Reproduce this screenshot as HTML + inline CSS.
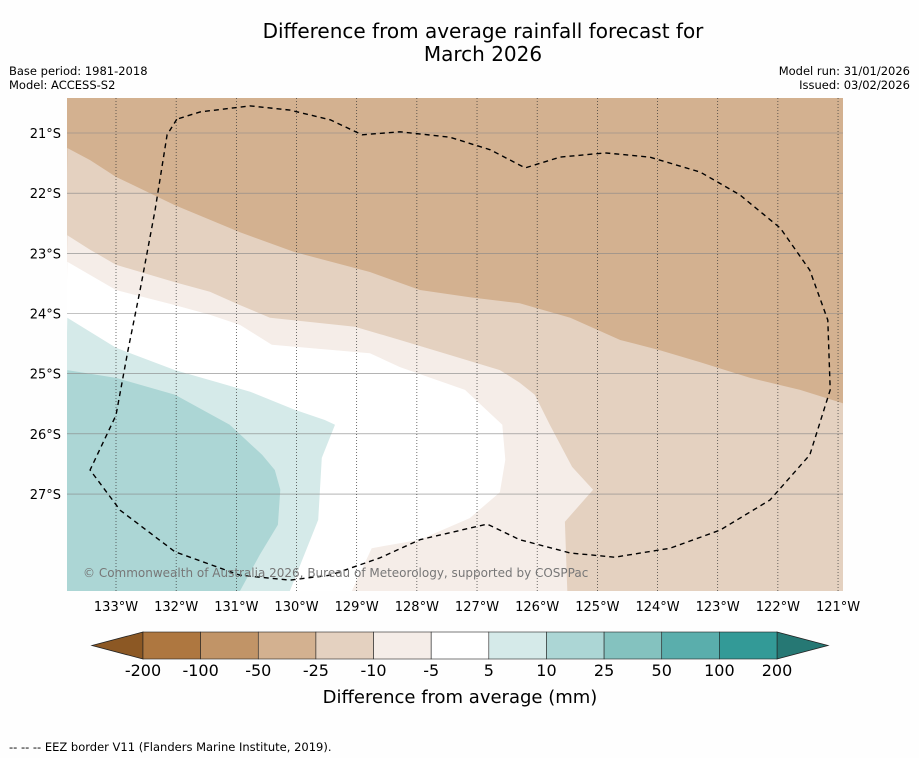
<!DOCTYPE html>
<html><head><meta charset="utf-8"><style>
body{margin:0;background:#fefefe;width:919px;height:758px;overflow:hidden;font-family:"DejaVu Sans","Liberation Sans",sans-serif;}
svg{display:block}
</style></head><body>
<svg id="chart" width="919" height="758" font-family="DejaVu Sans, Liberation Sans, sans-serif">
<text x="483" y="38" font-size="20" text-anchor="middle">Difference from average rainfall forecast for</text>
<text x="483" y="61" font-size="20" text-anchor="middle">March 2026</text>
<text x="9" y="75" font-size="11.5">Base period: 1981-2018</text>
<text x="9" y="89" font-size="11.5">Model: ACCESS-S2</text>
<text x="910" y="75" font-size="11.5" text-anchor="end">Model run: 31/01/2026</text>
<text x="910" y="89" font-size="11.5" text-anchor="end">Issued: 03/02/2026</text>
<text x="9" y="751" font-size="11.5">--  --  -- EEZ border V11 (Flanders Marine Institute, 2019).</text>
<g id="plot"></g>
<g id="cbar"></g>
</svg>
<script>
// Values in degrees West / degrees South
const lonTicks=[133,132,131,130,129,128,127,126,125,124,123,122,121];
const latTicks=[21,22,23,24,25,26,27];
const levels=[-200,-100,-50,-25,-10,-5,5,10,25,50,100,200];
const levelColors=["#ae7740","#c19467","#d3b190","#e4d1c0","#f5ede8","#ffffff","#d5eae9","#acd6d5","#84c2bf","#5aaeac","#339a97"];
const extColors=["#8c5824","#267874"];
const contourTan=[[133.81,21.25],[133.43,21.45],[133.0,21.73],[132.02,22.20],[130.94,22.65],[130.03,22.98],[128.78,23.31],[127.95,23.61],[127.12,23.73],[126.29,23.83],[125.45,24.07],[124.62,24.44],[123.96,24.61],[123.29,24.81],[122.46,25.07],[121.63,25.27],[120.92,25.49]];
const contourBeige=[[133.81,22.70],[133.43,22.94],[133.0,23.19],[132.02,23.48],[131.44,23.64],[130.94,23.86],[130.44,24.07],[129.03,24.22],[128.28,24.44],[127.45,24.69],[126.62,24.94],[126.29,25.15],[126.04,25.35],[125.79,25.85],[125.42,26.55],[125.07,26.93],[125.54,27.46],[125.50,28.61]];
const contourLight=[[133.81,23.14],[133.0,23.61],[132.02,23.86],[131.44,24.02],[130.94,24.19],[130.41,24.52],[128.78,24.66],[128.28,24.89],[127.20,25.27],[126.58,25.85],[126.53,26.43],[126.62,26.97],[127.12,27.40],[127.95,27.76],[128.75,27.90],[129.08,28.61]];
const contourWhite=[[133.81,24.07],[133.0,24.57],[132.02,24.94],[130.77,25.30],[130.03,25.60],[129.53,25.77],[129.36,25.85],[129.58,26.40],[129.64,27.43],[130.11,28.61]];
const contourTeal=[[133.81,24.94],[133.0,25.07],[132.02,25.35],[131.11,25.85],[130.57,26.35],[130.36,26.60],[130.27,26.93],[130.31,27.51],[130.61,28.01],[130.94,28.61]];
const eez=[[131.99,20.77],[132.15,21.03],[132.35,22.28],[132.60,23.61],[132.80,24.61],[133.0,25.69],[133.43,26.60],[132.93,27.27],[132.02,27.96],[130.94,28.35],[130.11,28.43],[129.44,28.35],[128.61,28.06],[127.95,27.76],[126.83,27.50],[126.29,27.76],[125.45,27.98],[124.71,28.05],[123.79,27.90],[122.96,27.60],[122.13,27.10],[121.47,26.35],[121.13,25.27],[121.17,24.11],[121.47,23.28],[121.96,22.58],[122.63,22.03],[123.29,21.65],[124.13,21.40],[124.87,21.33],[125.62,21.40],[126.20,21.58],[126.78,21.28],[127.45,21.07],[128.28,20.98],[128.91,21.03],[129.44,20.78],[130.11,20.62],[130.77,20.55],[131.60,20.65],[131.99,20.77]];

const NS='http://www.w3.org/2000/svg';
const X0=67,X1=843,Y0=98,Y1=591,PPD=60.17;
const sx=w=>116+(133-w)*PPD;
const sy=s=>133+(s-21)*PPD;
function mk(tag,attrs,parent){const e=document.createElementNS(NS,tag);for(const k in attrs)e.setAttribute(k,attrs[k]);parent.appendChild(e);return e;}
const plot=document.getElementById('plot');
const defs=mk('defs',{},plot);
const cp=mk('clipPath',{id:'clip'},defs);
mk('rect',{x:X0,y:Y0,width:X1-X0,height:Y1-Y0},cp);
const g=mk('g',{'clip-path':'url(#clip)'},plot);
const bg=mk('rect',{x:X0,y:Y0,width:X1-X0,height:Y1-Y0,fill:levelColors[2]},g);


function band(pts,color,name,rightClose){
  let d=pts.map((p,i)=>(i?'L':'M')+sx(p[0]).toFixed(1)+','+sy(p[1]).toFixed(1)).join('');
  d+='L'+(rightClose?X1+5:sx(pts[pts.length-1][0]))+','+(Y1+5)+'L'+(X0-5)+','+(Y1+5)+'Z';
  const e=mk('path',{d:d,fill:color},g);
  
  
}
band(contourTan,levelColors[3],'band-minus25-minus10',true);
band(contourBeige,levelColors[4],'band-minus10-minus5',false);
band(contourLight,levelColors[5],'band-minus5-5',false);
band(contourWhite,levelColors[6],'band-5-10',false);
band(contourTeal,levelColors[7],'band-10-25',false);
latTicks.forEach(s=>{
  const l=mk('line',{x1:X0,x2:X1,y1:sy(s),y2:sy(s),stroke:'#888',"stroke-width":0.6},g);
  
  
  const t=mk('text',{x:X0-6,y:sy(s)+5,'font-size':13,'text-anchor':'end'},plot);
  t.textContent=s+'°S';
  
  
});
lonTicks.forEach(w=>{
  const l=mk('line',{x1:sx(w),x2:sx(w),y1:Y0,y2:Y1,stroke:'#333',"stroke-width":0.7,'stroke-dasharray':'1,2'},g);
  
  
  const t=mk('text',{x:sx(w),y:611,'font-size':13,'text-anchor':'middle'},plot);
  t.textContent=w+'°W';
  
  
});
const ez=mk('path',{d:eez.map((p,i)=>(i?'L':'M')+sx(p[0]).toFixed(1)+','+sy(p[1]).toFixed(1)).join(''),fill:'none',stroke:'#000','stroke-width':1.4,'stroke-dasharray':'5,4','stroke-linejoin':'round'},g);


const cr=mk('text',{x:83,y:577,'font-size':12,fill:'#777'},plot);
cr.textContent='© Commonwealth of Australia 2026, Bureau of Meteorology, supported by COSPPac';


const cb=document.getElementById('cbar');
const CX0=143,CX1=777,CY0=632,CY1=659,bw=(CX1-CX0)/levelColors.length;
const lt=mk('path',{d:`M${CX0},${CY0}L92,${(CY0+CY1)/2}L${CX0},${CY1}Z`,fill:extColors[0],stroke:'#222','stroke-width':0.8},cb);


const rt=mk('path',{d:`M${CX1},${CY0}L828,${(CY0+CY1)/2}L${CX1},${CY1}Z`,fill:extColors[1],stroke:'#222','stroke-width':0.8},cb);


levelColors.forEach((c,i)=>{
  const r=mk('rect',{x:CX0+i*bw,y:CY0,width:bw,height:CY1-CY0,fill:c,stroke:'#222','stroke-width':0.6},cb);
  
  
});
levels.forEach((v,i)=>{
  const t=mk('text',{x:CX0+i*bw,y:676,'font-size':16,'text-anchor':'middle'},cb);
  t.textContent=v;
  
  
});
const ct=mk('text',{x:460,y:703,'font-size':18,'text-anchor':'middle'},cb);
ct.textContent='Difference from average (mm)';


</script>
</body></html>
